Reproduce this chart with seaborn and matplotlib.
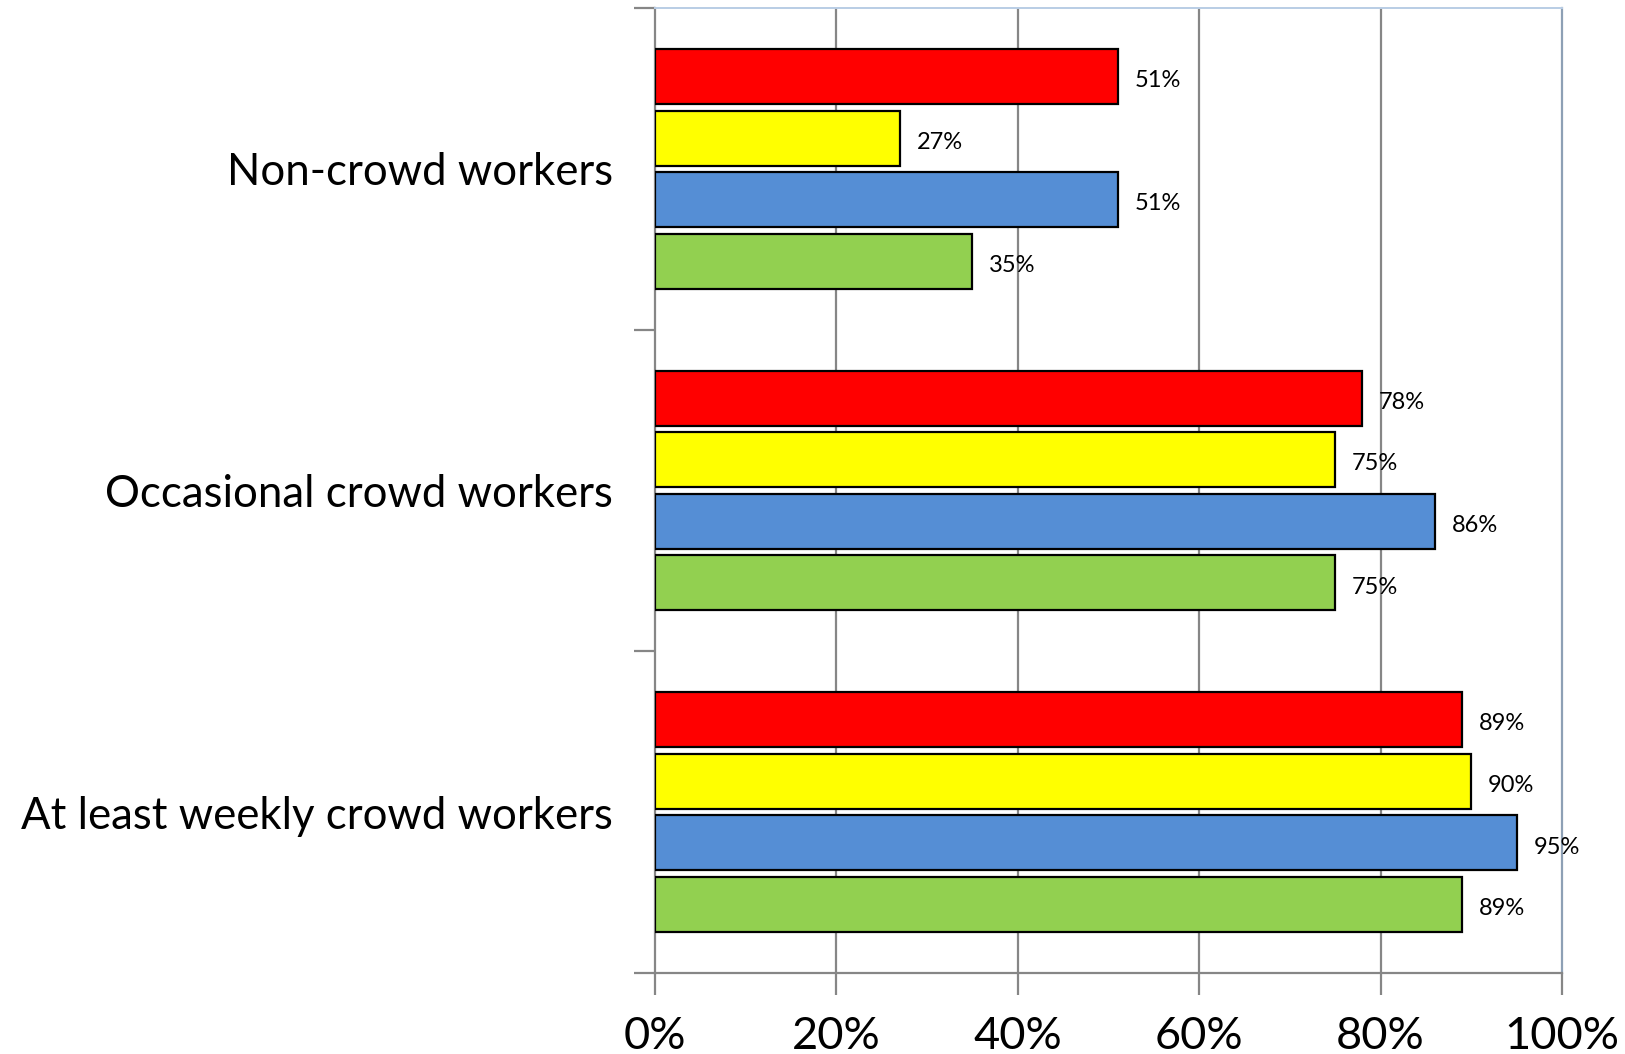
import matplotlib
matplotlib.use("Agg")
import matplotlib.pyplot as plt
import seaborn as sns
import pandas as pd
import numpy as np

categories = ["Non-crowd workers", "Occasional crowd workers", "At least weekly crowd workers"]
series = ["Series 1", "Series 2", "Series 3", "Series 4"]
values = {
    "Series 1": [51, 78, 89],
    "Series 2": [27, 75, 90],
    "Series 3": [51, 86, 95],
    "Series 4": [35, 75, 89],
}
colors = ["#FF0000", "#FFFF00", "#558ED5", "#92D050"]
xticks = [0, 20, 40, 60, 80, 100]
xticklabels = ["0%", "20%", "40%", "60%", "80%", "100%"]

rows = []
for s in series:
    for c, v in zip(categories, values[s]):
        rows.append({"group": c, "series": s, "value": v})
df = pd.DataFrame(rows)

sns.set_theme(style="white")
plt.rcParams["font.family"] = ["Lato", "DejaVu Sans"]

fig = plt.figure(figsize=(16.25, 10.54), dpi=100)
ax = fig.add_axes([655/1625, 1 - 973/1054, (1562-655)/1625, (973-8)/1054])

sns.barplot(data=df, y="group", x="value", hue="series", order=categories,
            hue_order=series, palette=colors, saturation=1, orient="h",
            width=0.766, gap=0.107,
            edgecolor="black", linewidth=1.6, ax=ax, legend=False, zorder=3)

ax.set_xlim(0, 100)
ax.set_ylim(2.5, -0.5)
ax.set_xticks(xticks)
ax.set_xticklabels(xticklabels, fontsize=32.5)
ax.set_yticks(range(len(categories)))
ax.set_yticklabels(categories, fontsize=31.5)
ax.set_yticks([-0.5, 0.5, 1.5, 2.5], minor=True)
ax.set_xlabel("")
ax.set_ylabel("")

for x in xticks[1:-1]:
    ax.axvline(x, color="#868686", lw=1.6, zorder=1)

grey = "#868686"
ax.spines["left"].set_color(grey)
ax.spines["left"].set_linewidth(1.6)
ax.spines["bottom"].set_color(grey)
ax.spines["bottom"].set_linewidth(1.6)
ax.spines["top"].set_color("#B9CDE5")
ax.spines["top"].set_linewidth(1.4)
ax.spines["right"].set_color("#8EA0B5")
ax.spines["right"].set_linewidth(1.6)

ax.tick_params(axis="x", which="major", direction="out", length=16, width=1.6,
               color=grey, bottom=True, pad=15, labelcolor="black")
ax.tick_params(axis="y", which="major", length=0, pad=30, labelcolor="black")
ax.tick_params(axis="y", which="minor", direction="out", length=15, width=1.6,
               color=grey, left=True)

for cont in ax.containers:
    texts = ax.bar_label(cont, labels=[f"{int(round(v))}%" for v in cont.datavalues],
                         padding=12, fontsize=17, color="black")
    for t in texts:
        t.xyann = (12, -3)

fig.savefig("out.png", dpi=100)
